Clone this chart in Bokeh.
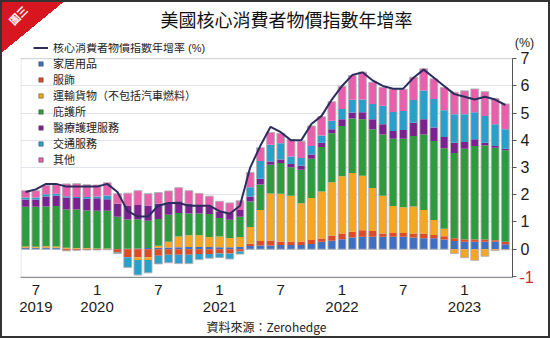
import math
from bokeh.plotting import figure
from bokeh.models import (ColumnDataSource, FixedTicker, Legend, LegendItem, Label,
                          Range1d, BoxAnnotation)
from bokeh.embed import file_html
from bokeh.resources import INLINE

# ---- data: monthly, Jun 2019 .. May 2023 (percentage-point contributions) ----
months = ["2019-06", "2019-07", "2019-08", "2019-09", "2019-10", "2019-11", "2019-12",
          "2020-01", "2020-02", "2020-03", "2020-04", "2020-05", "2020-06", "2020-07", "2020-08",
          "2020-09", "2020-10", "2020-11", "2020-12",
          "2021-01", "2021-02", "2021-03", "2021-04", "2021-05", "2021-06", "2021-07", "2021-08",
          "2021-09", "2021-10", "2021-11", "2021-12",
          "2022-01", "2022-02", "2022-03", "2022-04", "2022-05", "2022-06", "2022-07", "2022-08",
          "2022-09", "2022-10", "2022-11", "2022-12",
          "2023-01", "2023-02", "2023-03", "2023-04", "2023-05"]

household = [0.04, 0.04, 0.04, 0.04, 0.02, 0.02, 0.02, 0.01, 0.01,
             0.01, 0.02, 0.03, 0.04, 0.05, 0.06, 0.07, 0.08, 0.08, 0.08, 0.07, 0.07, 0.08,
             0.12, 0.14, 0.14, 0.15, 0.15, 0.15, 0.19, 0.27, 0.31, 0.37, 0.43, 0.46, 0.46,
             0.46, 0.46, 0.46, 0.43, 0.40, 0.40, 0.36, 0.30, 0.27, 0.27, 0.27, 0.27, 0.18]
apparel = [0.02, 0.01, 0.02, 0.01, -0.06, -0.04, -0.03, -0.03, -0.02,
           -0.12, -0.30, -0.30, -0.30, -0.24, -0.20, -0.20, -0.20, -0.18, -0.18, -0.16, -0.16, -0.08,
           0.08, 0.16, 0.18, 0.12, 0.12, 0.12, 0.15, 0.12, 0.19, 0.21, 0.21, 0.24, 0.21,
           0.12, 0.14, 0.14, 0.15, 0.18, 0.12, 0.12, 0.10, 0.09, 0.09, 0.09, 0.06, 0.09]
trans_goods = [0.04, 0.04, 0.05, 0.05, 0.03, 0.02, 0.02, 0.02, 0.02,
               0.00, 0.00, -0.10, -0.10, 0.08, 0.21, 0.40, 0.43, 0.43, 0.37, 0.40, 0.34, 0.37,
               0.62, 1.14, 1.73, 1.77, 1.69, 1.42, 1.54, 1.73, 1.96, 2.10, 2.16, 2.00, 1.58,
               1.38, 0.99, 0.94, 0.99, 0.86, 0.55, 0.27, -0.16, -0.31, -0.41, -0.26, -0.05, -0.02]
shelter = [1.46, 1.47, 1.46, 1.49, 1.41, 1.42, 1.38, 1.38, 1.38,
           1.18, 1.07, 1.07, 1.01, 0.98, 1.00, 0.86, 0.80, 0.80, 0.84, 0.68, 0.67, 0.74,
           0.93, 0.94, 1.05, 1.13, 1.05, 1.23, 1.44, 1.64, 1.80, 1.85, 2.00, 2.08, 2.16,
           2.26, 2.47, 2.52, 2.59, 2.78, 2.91, 2.96, 3.14, 3.33, 3.43, 3.45, 3.40, 3.37]
medical = [0.27, 0.27, 0.37, 0.37, 0.44, 0.42, 0.43, 0.46, 0.43,
           0.48, 0.52, 0.52, 0.56, 0.56, 0.43, 0.43, 0.37, 0.31, 0.29, 0.24, 0.25, 0.25,
           0.19, 0.21, 0.12, 0.13, 0.12, 0.15, 0.16, 0.15, 0.15, 0.25, 0.22, 0.25, 0.37,
           0.37, 0.28, 0.32, 0.49, 0.56, 0.49, 0.41, 0.37, 0.25, 0.25, 0.10, 0.06, 0.05]
trans_serv = [0.07, 0.07, 0.08, 0.08, 0.05, 0.04, 0.07, 0.07, 0.13,
              -0.04, -0.37, -0.55, -0.47, -0.30, -0.30, -0.33, -0.33, -0.20, -0.15, -0.15, -0.20, -0.10,
              0.34, 0.65, 0.62, 0.59, 0.28, 0.28, 0.31, 0.27, 0.31, 0.37, 0.47, 0.47, 0.56,
              0.68, 0.70, 0.70, 0.83, 1.05, 1.05, 0.99, 1.05, 1.02, 0.99, 0.99, 0.80, 0.72]
other = [0.25, 0.25, 0.33, 0.33, 0.45, 0.49, 0.45, 0.42, 0.47,
         0.37, 0.45, 0.53, 0.43, 0.41, 0.44, 0.50, 0.47, 0.43, 0.37, 0.37, 0.37, 0.34,
         0.54, 0.49, 0.45, 0.37, 0.62, 0.62, 0.74, 0.69, 0.70, 0.84, 0.89, 1.01, 0.80,
         0.68, 0.84, 0.80, 0.84, 0.80, 0.74, 0.83, 0.81, 0.86, 0.86, 0.89, 0.95, 0.93]
core_cpi = [2.1, 2.2, 2.4, 2.4, 2.3, 2.3, 2.3,
            2.3, 2.4, 2.1, 1.4, 1.2, 1.2, 1.6, 1.7, 1.7, 1.6, 1.6, 1.6,
            1.4, 1.3, 1.6, 3.0, 3.8, 4.5, 4.3, 4.0, 4.0, 4.6, 4.9, 5.5,
            6.0, 6.4, 6.5, 6.2, 6.0, 5.9, 5.9, 6.3, 6.6, 6.3, 6.0, 5.7,
            5.6, 5.5, 5.6, 5.5, 5.3]

series_names = ["家居用品", "服飾", "運輸貨物（不包括汽車燃料）", "庇護所", "醫療護理服務", "交通服務", "其他"]
series_values = [household, apparel, trans_goods, shelter, medical, trans_serv, other]
series_colors = ["#3f6fc3", "#dd4a26", "#f5a623", "#2e9b3e", "#7a2390", "#2a9fcb", "#e85fac"]
line_name = "核心消費者物價指數年增率 (%)"

tick_idx = [1, 7, 13, 19, 25, 31, 37, 43]
tick_labels = ["7\n2019", "1\n2020", "7", "1\n2021", "7", "1\n2022", "7", "1\n2023"]
y_ticks = [-1, 0, 1, 2, 3, 4, 5, 6, 7]

NUM_FONT = "Liberation Sans"
CJK_FONT = "Noto Sans CJK TC"
MIX_FONT = "Liberation Sans, Noto Sans CJK TC"   # latin metrics, CJK glyphs by fallback

x = list(range(len(months)))
X0, X1 = -0.5, 47.7
Y0, Y1 = -1.04, 7.56

p = figure(width=550, height=338, output_backend="svg", toolbar_location=None,
           x_range=Range1d(X0, X1), y_range=Range1d(Y0, Y1),
           y_axis_location="right",
           min_border_left=20, min_border_right=38, min_border_top=43, min_border_bottom=61)
p.background_fill_color = "white"
p.border_fill_color = None
p.outline_line_color = None
# corner badge + outer frame painted behind the (transparent) canvas border
p.styles = {
    "background": "linear-gradient(to bottom right, #d7161f 0%, #d7161f 50%, rgba(0,0,0,0) 50%) "
                  "no-repeat 0 0 / 66px 54px, #ffffff",
    "box-shadow": "inset 0 0 0 2px #333333",
}

# plot-area border (from -1 up to 7)
p.add_layout(BoxAnnotation(left=X0 + 0.05, right=X1, bottom=Y0, top=7,
                           fill_color=None, fill_alpha=0, line_color="#a0a0a0",
                           line_width=1, level="underlay"))

# stacked bars (positive and negative stacks separately)
pos_base = [0.0] * len(x)
neg_base = [0.0] * len(x)
for vals, col in zip(series_values, series_colors):
    bottoms, tops = [], []
    for i, v in enumerate(vals):
        if v >= 0:
            bottoms.append(pos_base[i]); tops.append(pos_base[i] + v); pos_base[i] += v
        else:
            bottoms.append(neg_base[i] + v); tops.append(neg_base[i]); neg_base[i] += v
    src = ColumnDataSource(dict(x=x, bottom=bottoms, top=tops))
    p.vbar(x="x", bottom="bottom", top="top", width=0.76, source=src,
           fill_color=col, line_color=None)

# bar outlines
osrc = ColumnDataSource(dict(x=x, bottom=neg_base, top=pos_base))
p.vbar(x="x", bottom="bottom", top="top", width=0.76, source=osrc,
       fill_color=None, line_color="#b0b0b0", line_width=0.9)

# core CPI line
lsrc = ColumnDataSource(dict(x=x, y=core_cpi))
line_r = p.line(x="x", y="y", source=lsrc, line_color="#2d2c5e", line_width=2)

# legend proxies (square markers, not drawn in the plot)
items = [LegendItem(label=line_name, renderers=[line_r])]
for name, col in zip(series_names, series_colors):
    r = p.scatter(x=[math.nan], y=[math.nan], marker="square", size=8, fill_color=col,
                  line_color="#555555", line_width=0.6)
    items.append(LegendItem(label=name, renderers=[r]))

legend = Legend(items=items, location=(13, 110), padding=0, margin=0, spacing=0,
                glyph_width=15, glyph_height=11, label_height=11, label_standoff=5,
                border_line_color=None, background_fill_alpha=0,
                label_text_font=MIX_FONT, label_text_font_size="11px",
                label_text_color="#222222")
p.add_layout(legend, "center")

# axes
yax = p.yaxis[0]
yax.ticker = FixedTicker(ticks=y_ticks)
yax.bounds = (Y0, 7)
yax.major_label_overrides = {-1: " "}
yax.major_label_text_font = NUM_FONT
yax.major_label_text_font_size = "16px"
yax.major_label_text_color = "#1a1a1a"
yax.axis_line_color = "#555555"
yax.major_tick_line_color = "#555555"
yax.major_tick_in = 0
yax.major_tick_out = 4
yax.minor_tick_line_color = None
yax.major_label_standoff = 4

xax = p.xaxis[0]
xax.ticker = FixedTicker(ticks=tick_idx)
xax.bounds = (X0, X1)
xax.major_label_overrides = {t: lab for t, lab in zip(tick_idx, tick_labels)}
xax.major_label_text_font = NUM_FONT
xax.major_label_text_font_size = "15px"
xax.major_label_text_color = "#1a1a1a"
xax.major_label_text_line_height = 1.0
xax.axis_line_color = "#8c8c8c"
xax.major_tick_line_color = None
xax.minor_tick_line_color = None
xax.major_label_standoff = -3
xax.axis_label = "資料來源：Zerohedge"
xax.axis_label_text_font = CJK_FONT
xax.axis_label_text_font_size = "12px"
xax.axis_label_text_font_style = "normal"
xax.axis_label_text_color = "#222222"
xax.axis_label_standoff = 0

p.xgrid.visible = False
p.ygrid.ticker = FixedTicker(ticks=y_ticks)
p.ygrid.grid_line_color = "#dfe5ea"
p.ygrid.grid_line_width = 1

# texts outside the frame (canvas units, in side panels so they are not clipped)
p.add_layout(Label(x=286, y=20, x_units="canvas", y_units="canvas",
                   text="美國核心消費者物價指數年增率", text_font=MIX_FONT,
                   text_font_size="18px", text_color="#111111",
                   text_align="center", text_baseline="middle"), "above")
p.add_layout(Label(x=18, y=15, x_units="canvas", y_units="canvas", text="圖三",
                   angle=0.785, text_font=MIX_FONT, text_font_size="10.5px",
                   text_font_style="bold", text_color="white",
                   text_align="center", text_baseline="middle"), "above")
p.add_layout(Label(x=524, y=42, x_units="canvas", y_units="canvas",
                   text="(%)", text_font=NUM_FONT, text_font_size="12.5px",
                   text_color="#222222", text_align="center", text_baseline="middle"), "left")
p.add_layout(Label(x=519, y=276, x_units="canvas", y_units="canvas", text="-1",
                   text_color="#d6262b", text_font=NUM_FONT, text_font_size="16px",
                   text_baseline="middle", text_align="left"), "right")

open("out.html", "w").write(file_html(p, INLINE))
